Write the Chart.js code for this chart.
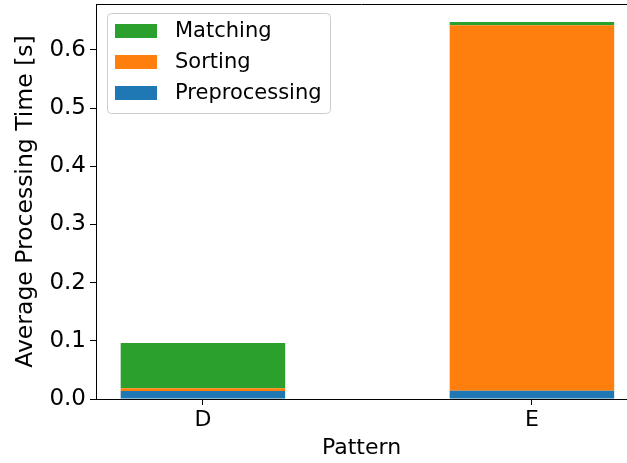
<!DOCTYPE html>
<html>
<head>
<meta charset="utf-8">
<script src="https://cdn.jsdelivr.net/npm/chart.js@4/dist/chart.umd.min.js"></script>
<style>
  html, body { margin: 0; padding: 0; background: #fff; overflow: hidden; }
  #wrap { width: 627px; height: 463px; }
</style>
</head>
<body>
<div id="wrap"><canvas id="chart"></canvas></div>
<script>
// data (seconds)
var patterns = ["D", "E"];
var preprocessing = [0.0137, 0.0143];
var sorting = [0.0047, 0.628];
var matching = [0.078, 0.0056];
var yTicks = [0.0, 0.1, 0.2, 0.3, 0.4, 0.5, 0.6];

function toPoints(values) {
    return values.map(function (v, i) { return { x: i, y: v }; });
}

// legend box in the upper left of the plot, like matplotlib
var boxLegend = {
    id: "boxLegend",
    afterDraw: function (chart) {
        var ctx = chart.ctx;
        var a = chart.chartArea;
        var x = a.left + 11, y = a.top + 9;
        var w = 223, h = 100;
        ctx.save();
        ctx.fillStyle = "rgba(255,255,255,0.8)";
        ctx.strokeStyle = "#cccccc";
        ctx.lineWidth = 1;
        ctx.beginPath();
        ctx.roundRect(x + 0.5, y + 0.5, w, h, 4);
        ctx.fill();
        ctx.stroke();
        var sets = chart.data.datasets.slice().reverse();
        ctx.font = "21px 'DejaVu Sans'";
        ctx.textBaseline = "middle";
        for (var i = 0; i < sets.length; i++) {
            var cy = y + 18 + i * 31;
            ctx.fillStyle = sets[i].backgroundColor;
            ctx.fillRect(x + 8, cy - 7, 42, 14);
            ctx.fillStyle = "#000";
            ctx.fillText(sets[i].label, x + 68, cy + 1);
        }
        ctx.restore();
    }
};

// top frame line (right side is cut off in the reference)
var topFrame = {
    id: "topFrame",
    afterDraw: function (chart) {
        var ctx = chart.ctx;
        var a = chart.chartArea;
        ctx.save();
        ctx.strokeStyle = "#000";
        ctx.lineWidth = 1;
        ctx.beginPath();
        ctx.moveTo(a.left, a.top + 0.5);
        ctx.lineTo(chart.width, a.top + 0.5);
        ctx.stroke();
        ctx.restore();
    }
};

Chart.defaults.font.family = "'DejaVu Sans', sans-serif";
Chart.defaults.font.size = 22;
Chart.defaults.color = "#000";

new Chart(document.getElementById("chart"), {
    type: "bar",
    data: {
        datasets: [
            { label: "Preprocessing", data: toPoints(preprocessing), backgroundColor: "#1f77b4" },
            { label: "Sorting", data: toPoints(sorting), backgroundColor: "#ff7f0e" },
            { label: "Matching", data: toPoints(matching), backgroundColor: "#2ca02c" }
        ]
    },
    options: {
        responsive: true,
        maintainAspectRatio: false,
        animation: false,
        categoryPercentage: 0.5,
        barPercentage: 1.0,
        layout: { padding: { top: 4, right: 0, left: 0, bottom: 0 } },
        plugins: {
            legend: { display: false },
            tooltip: { enabled: false }
        },
        scales: {
            x: {
                type: "linear",
                offset: false,
                stacked: true,
                min: -0.325,
                max: 1.289,
                afterBuildTicks: function (scale) {
                    scale.ticks = patterns.map(function (p, i) { return { value: i }; });
                },
                afterFit: function (scale) {
                    scale.height = 64;
                    scale.paddingLeft = 0;
                    scale.paddingRight = 0;
                },
                ticks: {
                    callback: function (v) { return patterns[v]; },
                    padding: 2,
                    maxRotation: 0
                },
                grid: { offset: false, drawOnChartArea: false, tickLength: 6, tickColor: "#000" },
                border: { color: "#000", width: 1 },
                title: { display: true, text: "Pattern", padding: { top: 0, bottom: 2 } }
            },
            y: {
                stacked: true,
                min: 0,
                max: 0.679,
                afterBuildTicks: function (scale) {
                    scale.ticks = yTicks.map(function (v) { return { value: v }; });
                },
                afterFit: function (scale) {
                    scale.width = 96;
                    scale.paddingTop = 0;
                    scale.paddingBottom = 0;
                },
                ticks: {
                    callback: function (v) { return v.toFixed(1); },
                    padding: 4,
                    font: { size: 23 }
                },
                grid: { drawOnChartArea: false, tickLength: 6, tickColor: "#000" },
                border: { color: "#000", width: 1 },
                title: {
                    display: true,
                    text: "Average Processing Time [s]",
                    font: { size: 23.5 },
                    padding: { top: 12, bottom: 0 }
                }
            }
        }
    },
    plugins: [boxLegend, topFrame]
});
</script>
</body>
</html>
